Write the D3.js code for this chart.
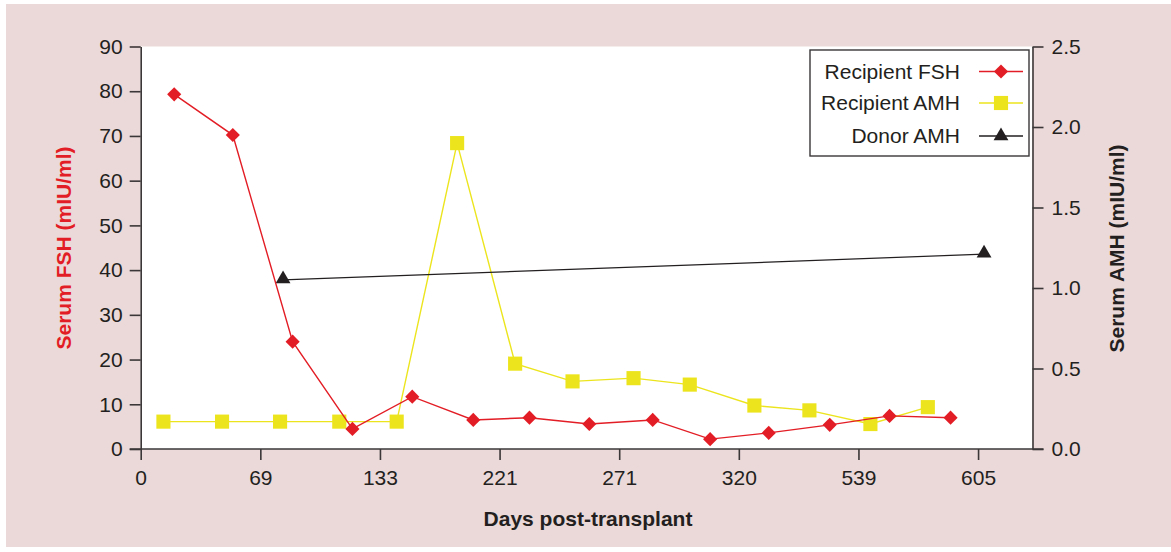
<!DOCTYPE html>
<html>
<head>
<meta charset="utf-8">
<script src="https://cdn.jsdelivr.net/npm/d3@7"></script>
<style>
  html, body { margin: 0; padding: 0; background: #ffffff; }
  svg { display: block; font-family: "Liberation Sans", Arial, Helvetica, sans-serif; }
</style>
</head>
<body>
<svg id="chart" width="1171" height="552"></svg>
<script>
// ---- data (x positions are in axis-tick units: tick i sits at i) ----
const xTickLabels = ["0", "69", "133", "221", "271", "320", "539", "605"];
const fshPos   = [0.28, 0.77, 1.27, 1.77, 2.27, 2.78, 3.25, 3.75, 4.28, 4.76, 5.25, 5.76, 6.26, 6.77];
const fshVals  = [79.3, 70.2, 24, 4.5, 11.7, 6.5, 7.0, 5.6, 6.5, 2.2, 3.6, 5.4, 7.4, 7.0];
const amhPos   = [0.19, 0.68, 1.165, 1.66, 2.14, 2.645, 3.13, 3.61, 4.12, 4.59, 5.13, 5.59, 6.10, 6.58];
const amhVals  = [0.17, 0.17, 0.17, 0.17, 0.17, 1.9, 0.53, 0.42, 0.44, 0.40, 0.27, 0.24, 0.155, 0.26];
const donorPos = [1.19, 7.05];
const donorVals = [1.05, 1.21];
const fshTicks = [0, 10, 20, 30, 40, 50, 60, 70, 80, 90];
const amhTicks = [0, 0.5, 1.0, 1.5, 2.0, 2.5];
const seriesNames = ["Recipient FSH", "Recipient AMH", "Donor AMH"];

const RED = "#e31d25", YEL = "#ece51e", BLK = "#231f20", AXIS = "#3b3738";
const FS = 21;

const svg = d3.select("#chart");
// background panel
svg.append("rect").attr("x", 6).attr("y", 4).attr("width", 1165).attr("height", 543).attr("fill", "#ebd9d9");

const L = 140.7, R = 1032.5, T = 46.5, B = 449;
svg.append("rect").attr("x", L).attr("y", T).attr("width", R - L).attr("height", B - T).attr("fill", "#ffffff");

const x = d3.scaleLinear().domain([0, 7.455]).range([L, R]);
const yL = d3.scaleLinear().domain([0, 90]).range([B, T]);
const yR = d3.scaleLinear().domain([0, 2.5]).range([B, T]);

function styleAxis(g) {
  g.select(".domain").attr("stroke", AXIS).attr("stroke-width", 1.6);
  g.selectAll(".tick line").attr("stroke", AXIS).attr("stroke-width", 1.6);
  g.selectAll(".tick text").attr("fill", BLK).attr("font-size", FS)
    .attr("font-family", '"Liberation Sans", Arial, sans-serif');
}

// left axis
const gL = svg.append("g").attr("transform", `translate(${L},0)`)
  .call(d3.axisLeft(yL).tickValues(fshTicks).tickSize(11).tickPadding(7).tickSizeOuter(0));
styleAxis(gL);
// right axis
const gR = svg.append("g").attr("transform", `translate(${R},0)`)
  .call(d3.axisRight(yR).tickValues(amhTicks).tickFormat(d3.format(".1f")).tickSize(11).tickPadding(8).tickSizeOuter(0));
styleAxis(gR);
// bottom axis
const gB = svg.append("g").attr("transform", `translate(0,${B})`)
  .call(d3.axisBottom(x).tickValues(d3.range(xTickLabels.length)).tickFormat(i => xTickLabels[i])
    .tickSize(11).tickPadding(10).tickSizeOuter(0));
styleAxis(gB);
gB.select(".domain").attr("d", `M${L - 11},0H${R + 11}`);

// axis titles
svg.append("text").attr("x", 588).attr("y", 526).attr("text-anchor", "middle")
  .attr("font-weight", "bold").attr("font-size", FS).attr("fill", BLK).text("Days post-transplant");
svg.append("text").attr("transform", "translate(71,248) rotate(-90)").attr("text-anchor", "middle")
  .attr("font-weight", "bold").attr("font-size", FS).attr("fill", RED).text("Serum FSH (mIU/ml)");
svg.append("text").attr("transform", "translate(1124,248.5) rotate(-90)").attr("text-anchor", "middle")
  .attr("font-weight", "bold").attr("font-size", FS).attr("fill", BLK).text("Serum AMH (mIU/ml)");

// series
const fsh = fshPos.map((p, i) => [p, fshVals[i]]);
const amh = amhPos.map((p, i) => [p, amhVals[i]]);
const donor = donorPos.map((p, i) => [p, donorVals[i]]);

const lineL = d3.line().x(d => x(d[0])).y(d => yL(d[1]));
const lineR = d3.line().x(d => x(d[0])).y(d => yR(d[1]));

const diamond = d3.symbol().type(d3.symbolSquare).size(100);
const square = d3.symbol().type(d3.symbolSquare).size(200);
const tri = d3.symbol().type(d3.symbolTriangle).size(95);

// AMH (yellow)
svg.append("path").datum(amh).attr("d", lineR).attr("fill", "none").attr("stroke", YEL).attr("stroke-width", 1.4);
svg.append("g").selectAll("path").data(amh).join("path")
  .attr("d", square).attr("transform", d => `translate(${x(d[0])},${yR(d[1])})`).attr("fill", YEL);

// Donor (black)
svg.append("path").datum(donor).attr("d", lineR).attr("fill", "none").attr("stroke", BLK).attr("stroke-width", 1.3);
svg.append("g").selectAll("path").data(donor).join("path")
  .attr("d", tri).attr("transform", d => `translate(${x(d[0])},${yR(d[1]) - 1})`).attr("fill", BLK);

// FSH (red)
svg.append("path").datum(fsh).attr("d", lineL).attr("fill", "none").attr("stroke", RED).attr("stroke-width", 1.4);
svg.append("g").selectAll("path").data(fsh).join("path")
  .attr("d", diamond).attr("transform", d => `translate(${x(d[0])},${yL(d[1])}) rotate(45)`).attr("fill", RED);

// legend
const lg = svg.append("g");
lg.append("rect").attr("x", 810).attr("y", 50).attr("width", 219).attr("height", 106)
  .attr("fill", "#fff").attr("stroke", AXIS).attr("stroke-width", 1.4);
const rows = [
  { name: seriesNames[0], color: RED, sym: diamond, rot: 45 },
  { name: seriesNames[1], color: YEL, sym: square, rot: 0 },
  { name: seriesNames[2], color: BLK, sym: tri, rot: 0 }
];
const rowY = [71.5, 103, 136];
rows.forEach((r, i) => {
  const cy = rowY[i];
  lg.append("text").attr("x", 960).attr("y", cy + 7).attr("text-anchor", "end")
    .attr("font-size", FS).attr("fill", BLK).text(r.name);
  lg.append("line").attr("x1", 979).attr("x2", 1023).attr("y1", cy).attr("y2", cy)
    .attr("stroke", r.color).attr("stroke-width", 1.4);
  lg.append("path").attr("d", r.sym).attr("fill", r.color)
    .attr("transform", `translate(1001,${cy}) rotate(${r.rot})`);
});
</script>
</body>
</html>
